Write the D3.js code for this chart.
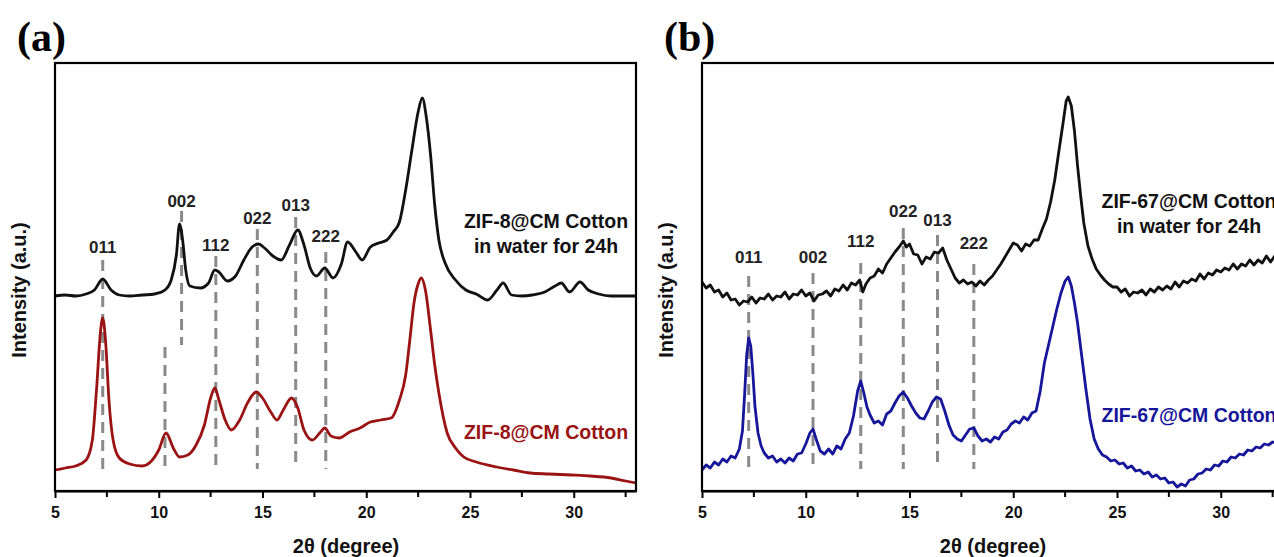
<!DOCTYPE html>
<html>
<head>
<meta charset="utf-8">
<script src="https://cdn.jsdelivr.net/npm/d3@7"></script>
<style>
  body { margin: 0; background: #fff; }
  svg { display: block; font-family: "Liberation Sans", Arial, sans-serif; }
</style>
</head>
<body>
<svg id="chart" width="1274" height="557"></svg>
<script>
// 2θ (degree), intensity (a.u.)
const zif8Water = [
  [5.0,195],[5.5,196],[6.0,195],[6.5,197],[6.9,201],[7.3,212],[7.7,201],[8.1,196],[8.6,195],[9.2,196],
  [9.8,197],[10.3,201],[10.6,211],[10.85,236],[11.0,267],[11.15,251],[11.3,221],[11.5,205],[12.0,203],
  [12.4,208],[12.7,221],[12.9,219],[13.3,210],[13.7,215],[14.1,231],[14.5,244],[14.8,247],[15.1,243],
  [15.5,235],[15.9,231],[16.3,246],[16.7,261],[17.0,246],[17.3,223],[17.6,215],[18.0,223],[18.4,213],
  [18.8,227],[19.1,249],[19.5,239],[19.8,231],[20.2,244],[20.6,248],[21.0,251],[21.3,259],[21.6,269],
  [21.9,301],[22.2,341],[22.5,379],[22.7,393],[22.9,373],[23.1,336],[23.3,286],[23.5,251],[23.8,228],
  [24.3,211],[24.8,201],[25.3,197],[25.85,191],[26.3,201],[26.6,208],[27.0,196],[27.5,195],[28.0,196],
  [28.6,199],[29.1,205],[29.4,208],[29.8,199],[30.3,209],[30.7,201],[31.2,197],[31.8,195],[32.4,195],[33.0,195]
];
const zif8 = [
  [5.0,21],[5.5,23],[6.0,25],[6.5,31],[6.8,51],[7.0,101],[7.2,161],[7.3,173],[7.45,146],[7.6,91],
  [7.8,51],[8.1,33],[8.6,27],[9.2,25],[9.6,29],[10.0,41],[10.35,58],[10.7,43],[11.0,34],[11.4,36],
  [11.8,46],[12.2,66],[12.5,93],[12.7,103],[12.9,91],[13.2,71],[13.5,61],[13.9,71],[14.3,89],[14.7,99],
  [15.0,93],[15.4,79],[15.7,71],[16.0,81],[16.4,93],[16.7,83],[17.0,61],[17.4,51],[17.8,59],[18.0,63],
  [18.3,55],[18.7,53],[19.2,59],[19.7,63],[20.2,69],[20.7,71],[21.2,73],[21.6,91],[21.9,116],[22.1,151],
  [22.3,188],[22.5,207],[22.65,213],[22.85,201],[23.1,161],[23.3,126],[23.5,98],[23.9,58],[24.3,43],
  [24.7,34],[25.3,29],[26.3,24],[27.1,21],[27.9,18],[28.8,17],[29.9,16],[30.8,15],[31.8,13],[32.5,10],[33.0,8]
];
const zif67Water = [
  [5.0,209],[5.2,203],[5.4,206],[5.6,199],[5.8,201],[6.0,194],[6.2,198],[6.4,191],[6.6,192],[6.8,186],
  [7.0,190],[7.2,189],[7.4,194],[7.6,188],[7.8,193],[8.0,192],[8.2,197],[8.4,191],[8.6,195],[8.8,194],
  [9.0,199],[9.2,192],[9.4,197],[9.6,196],[9.8,201],[10.0,195],[10.2,198],[10.4,190],[10.6,196],[10.8,197],
  [11.0,200],[11.2,195],[11.4,202],[11.6,200],[11.8,206],[12.0,201],[12.2,208],[12.4,206],[12.6,211],
  [12.75,199],[12.9,207],[13.1,213],[13.3,215],[13.5,222],[13.7,218],[13.9,227],[14.1,233],[14.3,239],
  [14.5,244],[14.7,250],[14.85,244],[15.0,247],[15.2,237],[15.4,236],[15.6,227],[15.8,234],[16.0,232],
  [16.2,239],[16.4,238],[16.6,243],[16.8,231],[17.0,222],[17.2,213],[17.4,208],[17.6,211],[17.8,207],
  [18.0,209],[18.2,205],[18.4,210],[18.6,206],[18.8,211],[19.0,215],[19.2,221],[19.4,227],[19.6,234],
  [19.8,241],[20.0,248],[20.2,246],[20.4,240],[20.6,247],[20.8,245],[21.0,251],[21.2,251],[21.4,262],
  [21.6,272],[21.8,289],[22.0,311],[22.2,340],[22.4,368],[22.55,390],[22.65,394],[22.8,385],[22.95,360],
  [23.1,325],[23.25,295],[23.4,268],[23.6,245],[23.8,232],[24.0,222],[24.2,216],[24.4,211],[24.6,207],
  [24.8,204],[25.0,204],[25.2,199],[25.4,202],[25.6,195],[25.8,199],[26.0,198],[26.2,201],[26.4,196],
  [26.6,202],[26.8,199],[27.0,204],[27.2,201],[27.4,205],[27.6,202],[27.8,209],[28.0,204],[28.2,210],
  [28.4,208],[28.6,212],[28.8,210],[29.0,217],[29.2,212],[29.4,218],[29.6,216],[29.8,221],[30.0,219],
  [30.2,223],[30.4,221],[30.6,227],[30.8,222],[31.0,227],[31.2,225],[31.4,231],[31.6,226],[31.8,231],
  [32.0,228],[32.2,235],[32.4,229],[32.6,235],[32.8,233],[33.0,237]
];
const zif67 = [
  [5.0,21],[5.2,26],[5.4,23],[5.6,29],[5.8,26],[6.0,32],[6.2,29],[6.4,35],[6.6,33],[6.8,42],
  [6.95,60],[7.05,95],[7.15,135],[7.25,153],[7.35,145],[7.45,118],[7.55,85],[7.7,58],[7.85,45],[8.0,38],
  [8.2,33],[8.4,35],[8.6,29],[8.8,32],[9.0,28],[9.2,33],[9.4,30],[9.6,37],[9.8,38],[10.0,47],
  [10.2,58],[10.35,62],[10.5,52],[10.7,40],[10.9,37],[11.1,42],[11.3,37],[11.5,45],[11.7,42],[11.9,52],
  [12.1,58],[12.3,75],[12.5,100],[12.65,110],[12.8,98],[12.95,84],[13.1,76],[13.3,68],[13.5,70],[13.7,66],
  [13.9,77],[14.1,80],[14.3,88],[14.5,95],[14.7,99],[14.9,93],[15.1,85],[15.3,78],[15.5,73],[15.7,72],
  [15.9,80],[16.1,89],[16.3,94],[16.5,92],[16.7,80],[16.9,66],[17.1,56],[17.3,52],[17.5,50],[17.7,56],
  [17.9,62],[18.1,63],[18.3,55],[18.5,50],[18.7,52],[18.9,49],[19.1,54],[19.3,52],[19.5,59],[19.7,61],
  [19.9,67],[20.1,70],[20.3,68],[20.5,74],[20.7,71],[20.9,78],[21.1,80],[21.3,100],[21.5,128],[21.7,146],
  [21.9,164],[22.1,182],[22.3,198],[22.5,210],[22.65,214],[22.8,205],[22.95,188],[23.1,168],[23.3,135],
  [23.5,102],[23.7,72],[23.9,52],[24.1,42],[24.3,36],[24.5,34],[24.7,30],[24.9,31],[25.1,27],[25.3,28],
  [25.5,23],[25.7,25],[25.9,20],[26.1,21],[26.3,17],[26.5,19],[26.7,14],[26.9,16],[27.1,12],[27.3,13],
  [27.5,8],[27.7,9],[27.9,4],[28.1,7],[28.3,5],[28.5,11],[28.7,12],[28.9,17],[29.1,18],[29.3,22],
  [29.5,21],[29.7,26],[29.9,25],[30.1,30],[30.3,29],[30.5,34],[30.7,33],[30.9,37],[31.1,36],[31.3,41],
  [31.5,40],[31.7,44],[31.9,43],[32.1,47],[32.3,46],[32.5,49],[32.7,48],[32.9,51],[33.0,50]
];

// reflections: hkl, dash 2θ, dash top / bottom (a.u.), label height (a.u.)
const hklA = ["011","002","","112","022","013","222"];
const dashA = [7.3, 11.1, 10.3, 12.75, 14.75, 16.6, 18.05];
const dashTopA = [231, 280, 144, 235, 262, 274, 239];
const dashBotA = [22, 146, 22, 22, 22, 22, 22];
const labelA = [238, 284, 0, 240, 267, 280, 249];

const hklB = ["011","002","112","022","013","222"];
const dashB = [7.25, 10.35, 12.65, 14.7, 16.35, 18.1];
const dashTopB = [215, 218, 228, 263, 256, 227];
const dashBotB = [22, 22, 22, 22, 22, 22];
const labelB = [228, 228, 244, 274, 265, 242];

const xTicks = [5, 10, 15, 20, 25, 30];
const xMinor = [7.5, 12.5, 17.5, 22.5, 27.5, 32.5];

const svg = d3.select("#chart");

function panel(opt) {
  const g = svg.append("g");
  const x = d3.scaleLinear().domain([5, 33]).range([opt.left, opt.left + 581]);
  const y = d3.scaleLinear().domain([0, 428]).range([491, 63]);

  const refs = opt.dash.map((d, i) => ({
    pos: d, top: opt.top[i], bot: opt.bot[i], lab: opt.label[i], hkl: opt.hkl[i]
  }));

  // reference dashes
  g.selectAll("line.ref")
    .data(refs)
    .enter().append("line")
    .attr("x1", d => x(d.pos)).attr("x2", d => x(d.pos))
    .attr("y1", d => y(d.top))
    .attr("y2", d => y(d.bot))
    .attr("stroke", "#8a8a8a")
    .attr("stroke-width", 3)
    .attr("stroke-dasharray", "11,7");

  opt.series.forEach(s => {
    const line = d3.line().x(d => x(d[0])).y(d => y(d[1])).curve(s.curve);
    g.append("path")
      .attr("d", line(s.data))
      .attr("fill", "none")
      .attr("stroke", s.color)
      .attr("stroke-width", 2.8)
      .attr("stroke-linejoin", "round");
  });

  g.selectAll("text.hkl")
    .data(refs.filter(d => d.hkl))
    .enter().append("text")
    .attr("x", d => x(d.pos))
    .attr("y", d => y(d.lab))
    .attr("text-anchor", "middle")
    .attr("font-size", 17)
    .attr("font-weight", "bold")
    .attr("fill", "#222")
    .text(d => d.hkl);

  // frame
  g.append("rect")
    .attr("x", opt.left).attr("y", 63)
    .attr("width", 581).attr("height", 428)
    .attr("fill", "none").attr("stroke", "#000").attr("stroke-width", 2.2);

  const xAxis = d3.axisBottom(x).tickValues(xTicks).tickSize(7).tickPadding(9).tickSizeOuter(0);
  const ax = g.append("g").attr("transform", "translate(0,491)").call(xAxis);
  ax.select(".domain").attr("stroke-width", 2.2);
  ax.selectAll(".tick line").attr("stroke-width", 2);
  ax.selectAll("text").attr("font-size", 16).attr("font-weight", "bold").attr("fill", "#111")
    .attr("font-family", "Liberation Sans, Arial, sans-serif");
  g.selectAll("line.minor")
    .data(xMinor)
    .enter().append("line")
    .attr("x1", d => x(d)).attr("x2", d => x(d))
    .attr("y1", 491).attr("y2", 497)
    .attr("stroke", "#000").attr("stroke-width", 2);

  g.append("text")
    .attr("x", opt.left + 291).attr("y", 553)
    .attr("text-anchor", "middle")
    .attr("font-size", 20).attr("font-weight", "bold").attr("fill", "#111")
    .text("2θ (degree)");

  g.append("text")
    .attr("transform", `translate(${opt.left - 29},290) rotate(-90)`)
    .attr("text-anchor", "middle")
    .attr("font-size", 20).attr("font-weight", "bold").attr("fill", "#111")
    .text("Intensity (a.u.)");

  g.append("text")
    .attr("x", opt.left - 38).attr("y", 51)
    .attr("font-family", "Liberation Serif, Times New Roman, serif")
    .attr("font-size", 42).attr("font-weight", "bold")
    .text(opt.title);

  opt.names.forEach(n => {
    const t = g.append("text")
      .attr("x", n.x).attr("y", n.y)
      .attr("text-anchor", "middle")
      .attr("font-size", 19.5).attr("font-weight", "bold")
      .attr("fill", n.color);
    n.lines.forEach((l, i) => t.append("tspan").attr("x", n.x).attr("dy", i ? 25 : 0).text(l));
  });
}

panel({
  left: 55, title: "(a)",
  series: [
    { data: zif8Water, color: "#111", curve: d3.curveMonotoneX },
    { data: zif8, color: "#9a1212", curve: d3.curveMonotoneX }
  ],
  hkl: hklA, dash: dashA, top: dashTopA, bot: dashBotA, label: labelA,
  names: [
    { x: 546, y: 228, color: "#111", lines: ["ZIF-8@CM Cotton", "in water for 24h"] },
    { x: 546, y: 439, color: "#9a1212", lines: ["ZIF-8@CM Cotton"] }
  ]
});

panel({
  left: 702, title: "(b)",
  series: [
    { data: zif67Water, color: "#111", curve: d3.curveLinear },
    { data: zif67, color: "#16169a", curve: d3.curveLinear }
  ],
  hkl: hklB, dash: dashB, top: dashTopB, bot: dashBotB, label: labelB,
  names: [
    { x: 1189, y: 208, color: "#111", lines: ["ZIF-67@CM Cotton", "in water for 24h"] },
    { x: 1189, y: 422, color: "#16169a", lines: ["ZIF-67@CM Cotton"] }
  ]
});
</script>
</body>
</html>
